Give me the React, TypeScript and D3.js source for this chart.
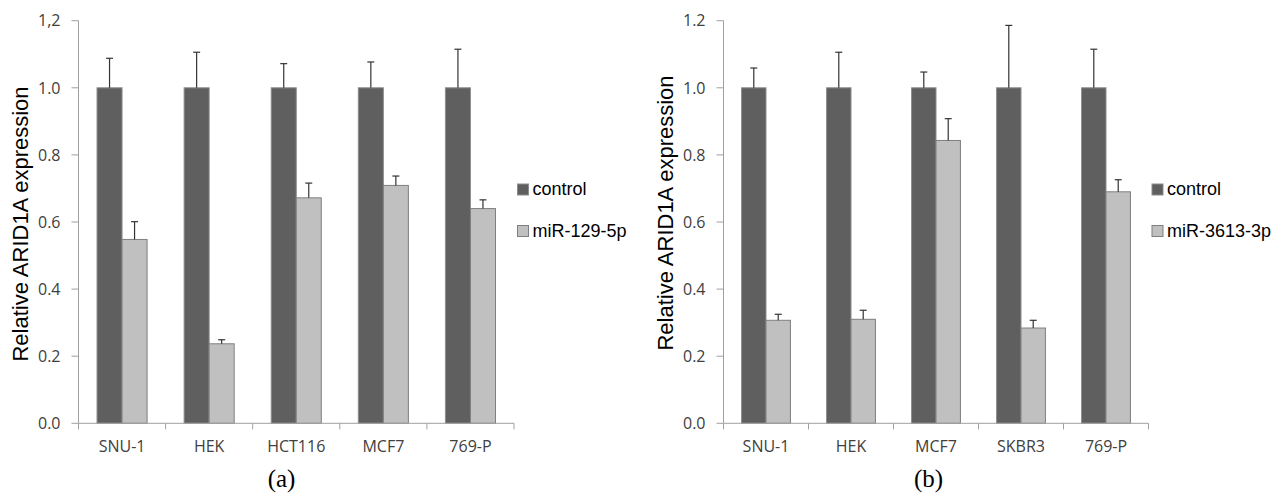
import React from 'react';
import * as d3 from 'd3';

// Panel (a)
const cellsA = ['SNU-1', 'HEK', 'HCT116', 'MCF7', '769-P'];
const controlA = [1.0, 1.0, 1.0, 1.0, 1.0];
const controlErrA = [0.088, 0.106, 0.072, 0.077, 0.115];
const mirA = [0.548, 0.237, 0.672, 0.709, 0.640];
const mirErrA = [0.053, 0.012, 0.044, 0.028, 0.026];
const tickLabelsA = ['0.0', '0.2', '0.4', '0.6', '0.8', '1.0', '1,2'];

// Panel (b)
const cellsB = ['SNU-1', 'HEK', 'MCF7', 'SKBR3', '769-P'];
const controlB = [1.0, 1.0, 1.0, 1.0, 1.0];
const controlErrB = [0.059, 0.106, 0.047, 0.186, 0.115];
const mirB = [0.307, 0.310, 0.843, 0.284, 0.690];
const mirErrB = [0.018, 0.027, 0.065, 0.023, 0.036];
const tickLabelsB = ['0.0', '0.2', '0.4', '0.6', '0.8', '1.0', '1.2'];

const yTicks = [0, 0.2, 0.4, 0.6, 0.8, 1.0, 1.2];
const seriesKeys = ['control', 'mir'];
const colors: Record<string, string> = { control: '#5f5f5f', mir: '#c0c0c0' };
const strokes: Record<string, string> = { control: '#8c8c8c', mir: '#7f7f7f' };

const yScale = d3.scaleLinear().domain([0, 1.2]).range([423.3, 20.7]);

interface PanelProps {
  cells: string[];
  control: number[];
  controlErr: number[];
  mir: number[];
  mirErr: number[];
  tickLabels: string[];
  mirName: string;
  axisX0: number;
  axisX1: number;
  titleX: number;
  titleY: number;
  legendX: number;
  caption: string;
  captionX: number;
}

function Panel(p: PanelProps) {
  const x0 = d3.scaleBand<string>().domain(p.cells).range([p.axisX0, p.axisX1]).padding(0);
  const x1 = d3.scaleBand<string>().domain(seriesKeys).range([0, x0.bandwidth()])
    .paddingInner(0).paddingOuter(0.74);
  const vals: Record<string, number[]> = { control: p.control, mir: p.mir };
  const errs: Record<string, number[]> = { control: p.controlErr, mir: p.mirErr };
  const y0 = yScale(0);
  const tickFont = '"Open Sans", sans-serif';

  return (
    <g>
      {/* bars with upper error bars */}
      {p.cells.map((c, i) => (
        <g key={c} transform={`translate(${x0(c)},0)`}>
          {seriesKeys.map(k => {
            const bx = x1(k)!;
            const v = vals[k][i];
            const top = yScale(v);
            const et = yScale(v + errs[k][i]);
            const cx = bx + x1.bandwidth() / 2;
            return (
              <g key={k}>
                <rect x={bx} y={top} width={x1.bandwidth()} height={y0 - top}
                  fill={colors[k]} stroke={strokes[k]} strokeWidth={1} />
                <line x1={cx} x2={cx} y1={top} y2={et} stroke="#333" strokeWidth={1.2} />
                <line x1={cx - 3.5} x2={cx + 3.5} y1={et} y2={et} stroke="#333" strokeWidth={1.2} />
              </g>
            );
          })}
        </g>
      ))}
      {/* y axis */}
      <line x1={p.axisX0} x2={p.axisX0} y1={yScale(1.2)} y2={y0} stroke="#a0a0a0" />
      {yTicks.map((t, i) => (
        <g key={t}>
          <line x1={p.axisX0 - 7} x2={p.axisX0} y1={yScale(t)} y2={yScale(t)} stroke="#a0a0a0" />
          <text x={p.axisX0 - 18} y={yScale(t)} dy="0.36em" textAnchor="end"
            fontFamily={tickFont} fontSize={16} fill="#404040">{p.tickLabels[i]}</text>
        </g>
      ))}
      {/* x axis */}
      <line x1={p.axisX0} x2={p.axisX1} y1={y0} y2={y0} stroke="#a0a0a0" />
      {[...p.cells.map(c => x0(c)!), p.axisX1].map((tx, i) => (
        <line key={i} x1={tx} x2={tx} y1={y0} y2={y0 + 6} stroke="#a0a0a0" />
      ))}
      {p.cells.map(c => (
        <text key={c} x={x0(c)! + x0.bandwidth() / 2} y={452} textAnchor="middle"
          fontFamily={tickFont} fontSize={16} fill="#404040">{c}</text>
      ))}
      {/* axis title */}
      <text transform={`translate(${p.titleX},${p.titleY}) rotate(-90)`}
        textAnchor="middle" fontFamily='"Liberation Sans", Arial, sans-serif' fontSize={22}
        fill="#000">Relative ARID1A expression</text>
      {/* legend */}
      {[{ k: 'control', label: 'control', y: 184 }, { k: 'mir', label: p.mirName, y: 225.5 }].map(l => (
        <g key={l.k}>
          <rect x={p.legendX} y={l.y} width={11} height={11} fill={colors[l.k]} stroke={strokes[l.k]} />
          <text x={p.legendX + 15} y={l.y + 11} fontFamily='"Liberation Sans", Arial, sans-serif'
            fontSize={18} fill="#000">{l.label}</text>
        </g>
      ))}
      {/* caption */}
      <text x={p.captionX} y={487} textAnchor="middle" fontFamily='"Liberation Serif", "Times New Roman", serif'
        fontSize={25} fill="#000">{p.caption}</text>
    </g>
  );
}

export default function App() {
  return (
    <svg width={1274} height={496} style={{ position: 'absolute', left: 0, top: 0, background: '#fff' }}>
      <rect width={1274} height={496} fill="#fff" />
      <Panel cells={cellsA} control={controlA} controlErr={controlErrA} mir={mirA} mirErr={mirErrA}
        tickLabels={tickLabelsA} mirName="miR-129-5p" axisX0={78.5} axisX1={514}
        titleX={28} titleY={224} legendX={517.5} caption="(a)" captionX={281.5} />
      <Panel cells={cellsB} control={controlB} controlErr={controlErrB} mir={mirB} mirErr={mirErrB}
        tickLabels={tickLabelsB} mirName="miR-3613-3p" axisX0={723.5} axisX1={1148.5}
        titleX={673} titleY={213} legendX={1152} caption="(b)" captionX={928.5} />
    </svg>
  );
}
